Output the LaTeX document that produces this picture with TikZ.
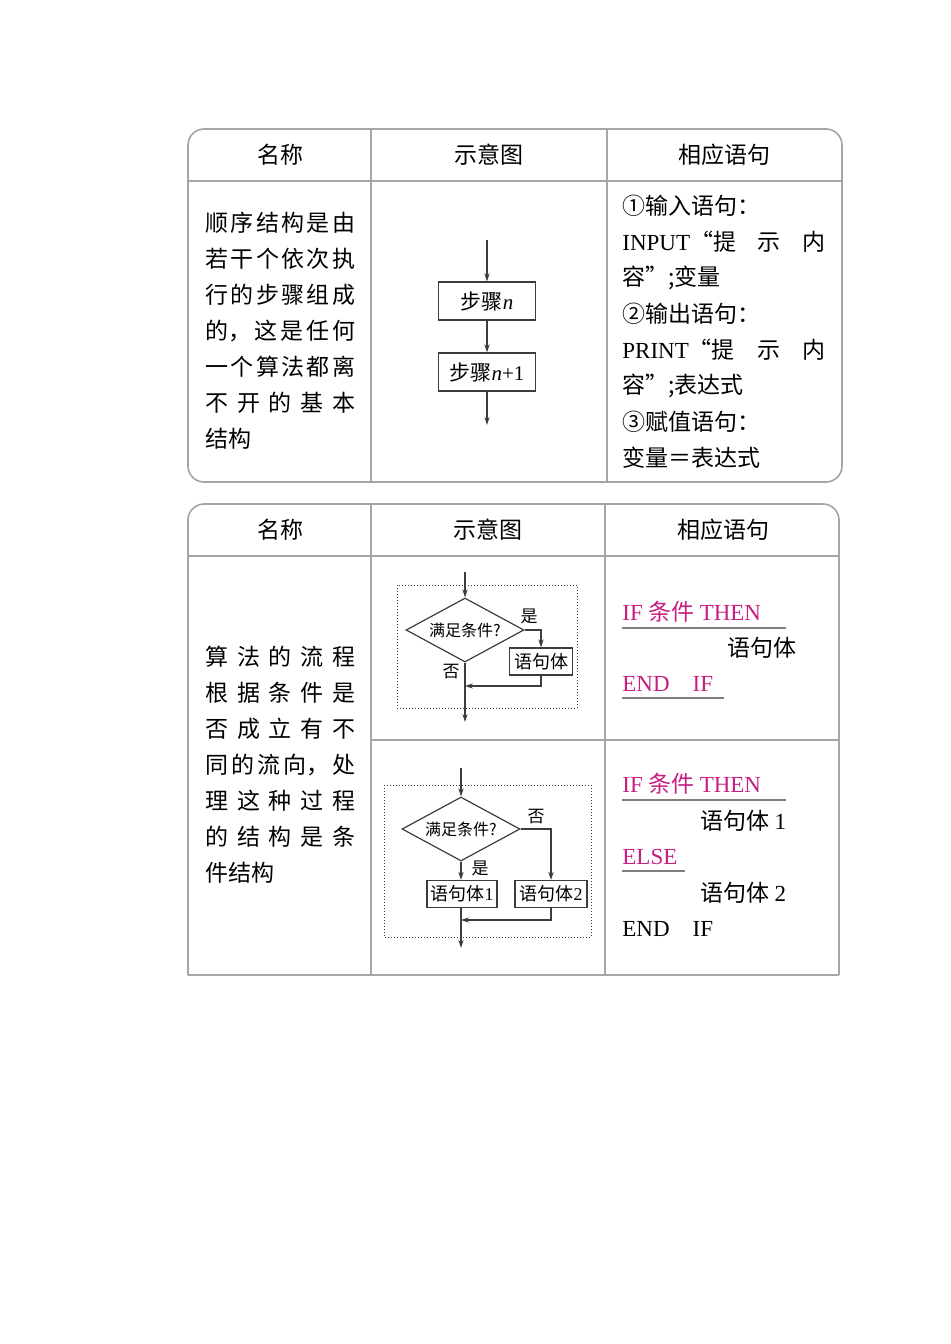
\documentclass[tikz,border=0pt]{standalone}
\usepackage{fontspec}
\setmainfont{Liberation Serif}
\newfontfamily\zh{Noto Sans CJK SC}
\usetikzlibrary{shapes.geometric,arrows.meta}
\definecolor{mag}{RGB}{200,30,130}
\definecolor{tline}{RGB}{165,165,165}
\definecolor{fl}{RGB}{60,60,60}
\newcommand{\spr}[1]{\makebox[75pt][s]{#1}}
\begin{document}
\begin{tikzpicture}[x=0.5pt,y=-0.5pt,
  tab/.style={draw=tline,line width=0.8pt},
  txt/.style={inner sep=0,anchor=west,font=\fontsize{11.5}{13}\selectfont},
  hd/.style={inner sep=0,font=\zh\fontsize{11.5}{13}\selectfont},
  fbox/.style={draw=fl,line width=0.6pt,minimum height=13.5pt,inner sep=1.5pt,font=\fontsize{9}{10}\selectfont},
  dia/.style={diamond,aspect=1.9,draw=fl,line width=0.6pt,inner sep=0.3pt,minimum width=59pt,minimum height=32pt,font=\zh\fontsize{8}{9}\selectfont},
  fa/.style={draw=fl,line width=0.6pt,-{Stealth[length=4pt,width=2.6pt]}},
  fn/.style={draw=fl,line width=0.6pt},
  dbox/.style={draw=fl,line width=0.5pt,densely dotted},
  lab/.style={inner sep=0,font=\zh\fontsize{8.5}{9}\selectfont},
  ul/.style={draw=gray,line width=0.9pt}]
\useasboundingbox (0,0) rectangle (950,1344);
% ---------- table 1
\draw[tab,rounded corners=8] (188,129) rectangle (842,482);
\draw[tab] (188,181) -- (842,181) (371,129) -- (371,482) (607,129) -- (607,482);
\node[hd] (h1a) at (280,155) {名称};
\node[hd] (h1b) at (489,155) {示意图};
\node[hd] (h1c) at (724,155) {相应语句};
\foreach \t [count=\i] in {{顺\hfill 序\hfill 结\hfill 构\hfill 是\hfill 由},{若\hfill 干\hfill 个\hfill 依\hfill 次\hfill 执},{行\hfill 的\hfill 步\hfill 骤\hfill 组\hfill 成},{的，\hfill 这\hfill 是\hfill 任\hfill 何},{一\hfill 个\hfill 算\hfill 法\hfill 都\hfill 离},{不\hfill 开\hfill 的\hfill 基\hfill 本}}
  \node[txt,font=\zh\fontsize{11.5}{13}\selectfont] (l1\i) at (205,187+36*\i) {\spr{\t}};
\node[txt,font=\zh\fontsize{11.5}{13}\selectfont] (l17) at (205,439) {结构};
% flowchart 1
\coordinate (s0) at (487,240);
\node[fbox,minimum width=48.5pt,minimum height=19pt,font=\fontsize{10.5}{11}\selectfont] (b1) at (487,301) {\zh 步骤{\normalfont\itshape n}};
\node[fbox,minimum width=48.5pt,minimum height=19pt,font=\fontsize{10.5}{11}\selectfont] (b2) at (487,372) {\zh 步骤{\normalfont\itshape n}\normalfont+1};
\coordinate (s3) at (487,425);
\draw[fa] (s0) -- (b1.north);
\draw[fa] (b1) -- (b2);
\draw[fa] (b2.south) -- (s3);
% right column
\node[txt] (r1) at (622,206) {\zh ①输入语句：};
\node[txt] (r2) at (622,242) {\makebox[101.5pt][s]{INPUT\zh“提\hfill 示\hfill 内}};
\node[txt] (r3) at (622,278) {\zh 容”;变量};
\node[txt] (r4) at (622,314) {\zh ②输出语句：};
\node[txt] (r5) at (622,350) {\makebox[101.5pt][s]{PRINT\zh“提\hfill 示\hfill 内}};
\node[txt] (r6) at (622,386) {\zh 容”;表达式};
\node[txt] (r7) at (622,422) {\zh ③赋值语句：};
\node[txt] (r8) at (622,458) {\zh 变量＝表达式};
% ---------- table 2
\draw[tab,rounded corners=8] (188,975) -- (188,504) -- (839,504) -- (839,975);
\draw[tab] (188,975) -- (839,975);
\draw[tab] (188,556) -- (839,556) (371,504) -- (371,975) (605,504) -- (605,975) (371,740) -- (839,740);
\node[hd] (h2a) at (280,530) {名称};
\node[hd] (h2b) at (488,530) {示意图};
\node[hd] (h2c) at (723,530) {相应语句};
\foreach \t [count=\i] in {{算\hfill 法\hfill 的\hfill 流\hfill 程},{根\hfill 据\hfill 条\hfill 件\hfill 是},{否\hfill 成\hfill 立\hfill 有\hfill 不},{同\hfill 的\hfill 流\hfill 向，\hfill 处},{理\hfill 这\hfill 种\hfill 过\hfill 程},{的\hfill 结\hfill 构\hfill 是\hfill 条}}
  \node[txt,font=\zh\fontsize{11.5}{13}\selectfont] (m\i) at (205,621+36*\i) {\spr{\t}};
\node[txt,font=\zh\fontsize{11.5}{13}\selectfont] (m7) at (205,873) {件结构};
% flowchart IF
\draw[dbox] (397,585) rectangle (577,708);
\coordinate (p0) at (465,572);
\node[dia] (d1) at (465,630) {满足条件?};
\node[fbox,minimum width=31.5pt] (c1) at (541,661.5) {\zh 语句体};
\coordinate (p1) at (541,686);
\coordinate (p2) at (465,722);
\draw[fa] (p0) -- (d1.north);
\draw[fa] (d1.east) -| (c1.north);
\draw[fa] (c1.south) |- (p2 |- p1);
\draw[fa] (d1.south) -- (p2);
\node[lab] (y1) at (529,616) {是};
\node[lab] (n1) at (451,672) {否};
% flowchart IF ELSE
\draw[dbox] (384,785) rectangle (591,937);
\coordinate (q0) at (461,768);
\node[dia] (d2) at (461,829) {满足条件?};
\node[fbox,minimum width=35pt] (c2) at (462,894) {\zh 语句体\normalfont 1};
\node[fbox,minimum width=36pt] (c3) at (551,894) {\zh 语句体\normalfont 2};
\coordinate (q1) at (461,920);
\coordinate (q2) at (461,948);
\draw[fa] (q0) -- (d2.north);
\draw[fa] (d2.east) -| (c3.north);
\draw[fa] (d2.south) -- (d2.south |- c2.north);
\draw[fa] (c2.south -| q2) -- (q2);
\draw[fa] (c3.south) |- (q1);
\node[lab] (n2) at (536,817) {否};
\node[lab] (y2) at (480,868) {是};
% right column table 2
\node[txt,text=mag] (t1) at (622,612) {IF \zh 条件 \normalfont THEN};
\draw[ul] (622,628) -- (786,628);
\node[txt] (t2) at (727,648) {\zh 语句体};
\node[txt,text=mag] (t3) at (622,684) {END\hspace{1em}IF};
\draw[ul] (622,698) -- (724,698);
\node[txt,text=mag] (u1) at (622,784) {IF \zh 条件 \normalfont THEN};
\draw[ul] (622,800) -- (786,800);
\node[txt] (u2) at (700,821) {\zh 语句体 \normalfont 1};
\node[txt,text=mag] (u3) at (622,857) {ELSE};
\draw[ul] (622,871) -- (685,871);
\node[txt] (u4) at (700,893) {\zh 语句体 \normalfont 2};
\node[txt] (u5) at (622,929) {END\hspace{1em}IF};
\end{tikzpicture}
\end{document}
